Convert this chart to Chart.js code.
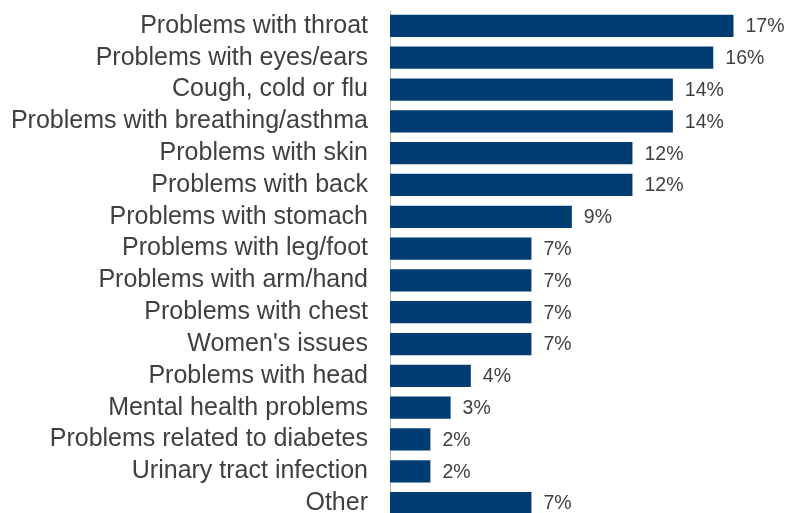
<!DOCTYPE html>
<html>
<head>
<meta charset="utf-8">
<script src="https://cdn.jsdelivr.net/npm/chart.js@4/dist/chart.umd.min.js"></script>
<style>
  html, body { margin: 0; padding: 0; background: #ffffff; overflow: hidden; }
  #wrap { position: relative; width: 787px; height: 522px; }
</style>
</head>
<body>
<div id="wrap"><canvas id="chart"></canvas></div>
<script>
// Reported health problems, share of respondents (%)
const categories = [
  "Problems with throat",
  "Problems with eyes/ears",
  "Cough, cold or flu",
  "Problems with breathing/asthma",
  "Problems with skin",
  "Problems with back",
  "Problems with stomach",
  "Problems with leg/foot",
  "Problems with arm/hand",
  "Problems with chest",
  "Women's issues",
  "Problems with head",
  "Mental health problems",
  "Problems related to diabetes",
  "Urinary tract infection",
  "Other"
];
const shares = [17, 16, 14, 14, 12, 12, 9, 7, 7, 7, 7, 4, 3, 2, 2, 7];
const valueLabels = ["17%", "16%", "14%", "14%", "12%", "12%", "9%", "7%", "7%", "7%", "7%", "4%", "3%", "2%", "2%", "7%"];

const BAR_COLOR = "#003c71";
const TEXT_COLOR = "#404040";
const FONT = "'Liberation Sans', Arial, sans-serif";

// Writes each bar's percentage just past its end
const barValueLabels = {
  id: "barValueLabels",
  afterDatasetsDraw(chart) {
    const ctx = chart.ctx;
    const meta = chart.getDatasetMeta(0);
    ctx.save();
    ctx.font = "19.5px " + FONT;
    ctx.fillStyle = TEXT_COLOR;
    ctx.textAlign = "left";
    ctx.textBaseline = "middle";
    meta.data.forEach((bar, i) => {
      ctx.fillText(valueLabels[i], bar.x + 12, bar.y + 1);
    });
    ctx.restore();
  }
};

new Chart(document.getElementById("chart"), {
  type: "bar",
  data: {
    labels: categories,
    datasets: [{
      data: shares,
      backgroundColor: BAR_COLOR,
      borderWidth: 0,
      barPercentage: 0.7,
      categoryPercentage: 1.0
    }]
  },
  options: {
    indexAxis: "y",
    responsive: true,
    maintainAspectRatio: false,
    animation: false,
    layout: { padding: { top: 10, right: 3, bottom: 3, left: 0 } },
    plugins: {
      legend: { display: false },
      tooltip: { enabled: false }
    },
    scales: {
      x: {
        min: 0,
        max: 19.5,
        display: false,
        grid: { display: false }
      },
      y: {
        grid: { display: false, drawTicks: false },
        border: { display: true, color: "#bfbfbf", width: 1 },
        ticks: {
          color: TEXT_COLOR,
          font: { family: FONT, size: 25 },
          padding: 22,
          autoSkip: false
        },
        afterFit(scale) {
          scale.width = 390;
          scale.paddingTop = 0;
          scale.paddingBottom = 0;
        }
      }
    }
  },
  plugins: [barValueLabels]
});
</script>
</body>
</html>
